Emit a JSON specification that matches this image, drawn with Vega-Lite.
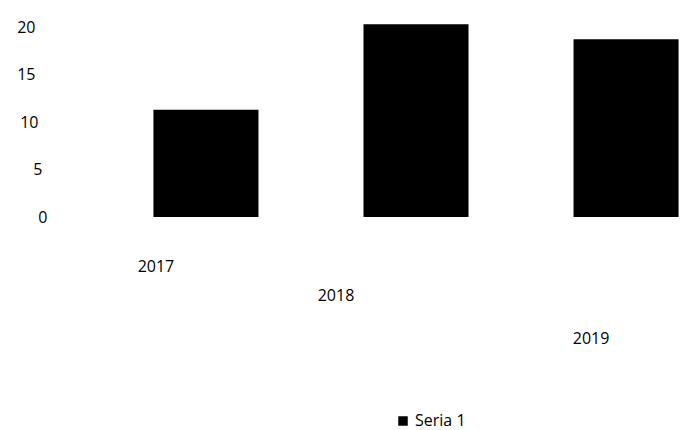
{
  "$schema": "https://vega.github.io/schema/vega-lite/v6.json",
  "autosize": {"type": "none"},
  "width": 552,
  "height": 190,
  "padding": {"top": 27, "left": 140, "right": 0, "bottom": 213},
  "background": "white",
  "config": {
    "view": {"stroke": null},
    "font": "Open Sans",
    "axis": {"labelFont": "Open Sans", "labelFontSize": 16, "labelColor": "#000", "domain": false, "ticks": false, "grid": false, "title": null}
  },
  "data": {
    "values": [
      {"year": "2017", "value": 11.3, "series": "Seria 1"},
      {"year": "2018", "value": 20.3, "series": "Seria 1"},
      {"year": "2019", "value": 18.7, "series": "Seria 1"}
    ]
  },
  "mark": {"type": "bar", "color": "#000000"},
  "encoding": {
    "x": {
      "field": "year", "type": "nominal",
      "scale": {"paddingInner": 0.5, "paddingOuter": 0.064},
      "axis": {
        "labelAngle": 0,
        "labelPadding": {
          "condition": [
            {"test": "datum.value == '2018'", "value": 70},
            {"test": "datum.value == '2019'", "value": 113}
          ],
          "value": 41
        },
        "labelOffset": {
          "condition": [
            {"test": "datum.value == '2018'", "value": -80},
            {"test": "datum.value == '2019'", "value": -35}
          ],
          "value": -50
        }
      }
    },
    "y": {
      "field": "value", "type": "quantitative",
      "scale": {"domain": [0, 20], "nice": false, "clamp": false},
      "axis": {
        "values": [0, 5, 10, 15, 20],
        "labelPadding": {
          "condition": [
            {"test": "datum.value == 20", "value": 105},
            {"test": "datum.value == 15", "value": 105},
            {"test": "datum.value == 10", "value": 102},
            {"test": "datum.value == 5", "value": 98}
          ],
          "value": 93
        }
      }
    },
    "color": {
      "field": "series", "type": "nominal",
      "scale": {"range": ["#000000"]},
      "legend": {
        "orient": "none", "legendX": 255, "legendY": 386,
        "title": null, "symbolType": "square", "symbolSize": 90,
        "labelFont": "Open Sans", "labelFontSize": 16, "labelColor": "#000"
      }
    }
  }
}
